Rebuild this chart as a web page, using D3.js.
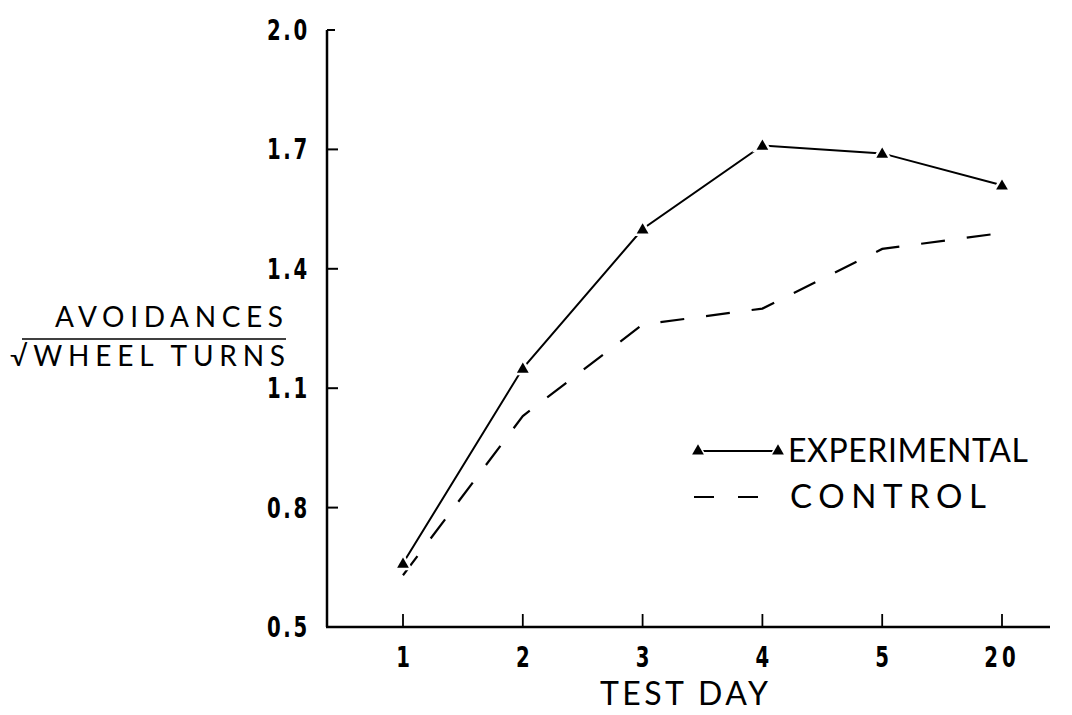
<!DOCTYPE html>
<meta charset="utf-8">
<style>
body { margin: 0; background: #fff; }
.tick-label {
  font-family: "DejaVu Sans", sans-serif;
  font-weight: bold;
  font-size: 29px;
  fill: #000;
}
.title {
  font-family: Lato, "Open Sans", sans-serif;
  fill: #000;
}
</style>

<svg width="1072" height="715"></svg>

<script src="https://d3js.org/d3.v7.min.js"></script>
<script>
// test days on the x axis, ratio values for the two groups
var days = ["1", "2", "3", "4", "5", "20"];
var experimental = [0.66, 1.15, 1.50, 1.71, 1.69, 1.61];
var control = [0.63, 1.03, 1.26, 1.30, 1.45, 1.49];
var yTicks = [0.5, 0.8, 1.1, 1.4, 1.7, 2.0];

var svg = d3.select("svg");

// scales
var x = d3.scalePoint().domain(days).range([403, 1002]);
var y = d3.scaleLinear().domain([0.5, 2.0]).range([627, 30]);

// y axis: line, inward ticks, bold condensed labels
svg.append("line")
    .attr("x1", 327).attr("x2", 327)
    .attr("y1", y(2.0)).attr("y2", y(0.5))
    .attr("stroke", "#000").attr("stroke-width", 2.5);

svg.selectAll(".ytick")
    .data(yTicks.slice(1))
    .enter().append("line")
      .attr("x1", 327).attr("x2", function(d) { return d == 2.0 ? 335 : 338; })
      .attr("y1", function(d) { return y(d); })
      .attr("y2", function(d) { return y(d); })
      .attr("stroke", "#000").attr("stroke-width", 2);

svg.selectAll(".ylab")
    .data(yTicks)
    .enter().append("text")
      .attr("class", "tick-label")
      .attr("transform", function(d) { return "translate(310," + (y(d) + 10) + ") scale(0.68,1)"; })
      .attr("text-anchor", "end")
      .style("letter-spacing", "4px")
      .text(function(d) { return d.toFixed(1); });

// x axis: line, upward ticks, labels
svg.append("line")
    .attr("x1", 326).attr("x2", 1050)
    .attr("y1", y(0.5)).attr("y2", y(0.5))
    .attr("stroke", "#000").attr("stroke-width", 2.5);

svg.selectAll(".xtick")
    .data(days)
    .enter().append("line")
      .attr("x1", function(d) { return x(d); })
      .attr("x2", function(d) { return x(d); })
      .attr("y1", y(0.5)).attr("y2", y(0.5) - 13)
      .attr("stroke", "#000").attr("stroke-width", 1.8);

svg.selectAll(".xlab")
    .data(days)
    .enter().append("text")
      .attr("class", "tick-label")
      .attr("transform", function(d) { return "translate(" + x(d) + ",667) scale(0.68,1)"; })
      .attr("text-anchor", "middle")
      .style("letter-spacing", function(d) { return d.length > 1 ? "6px" : "0px"; })
      .text(function(d) { return d; });

// axis titles
svg.append("text")
    .attr("class", "title")
    .attr("x", 600).attr("y", 705)
    .style("font-size", "32px")
    .attr("textLength", 168).attr("lengthAdjust", "spacing")
    .text("TEST DAY");

svg.append("text")
    .attr("class", "title")
    .attr("x", 55).attr("y", 327)
    .style("font-size", "28px")
    .attr("textLength", 228).attr("lengthAdjust", "spacing")
    .text("AVOIDANCES");

svg.append("line")
    .attr("x1", 22).attr("x2", 286)
    .attr("y1", 339).attr("y2", 339)
    .attr("stroke", "#000").attr("stroke-width", 1.5);

svg.append("text")
    .attr("class", "title")
    .attr("x", 10).attr("y", 366)
    .style("font-size", "28px")
    .attr("textLength", 275).attr("lengthAdjust", "spacing")
    .text("\u221AWHEEL TURNS");

// lines
var line = d3.line()
    .x(function(d, i) { return x(days[i]); })
    .y(function(d) { return y(d); });

svg.append("path")
    .datum(control)
    .attr("d", line)
    .attr("fill", "none")
    .attr("stroke", "#000")
    .attr("stroke-width", 2.2)
    .attr("stroke-dasharray", "24,22");

svg.append("path")
    .datum(experimental)
    .attr("d", line)
    .attr("fill", "none")
    .attr("stroke", "#000")
    .attr("stroke-width", 2);

var tri = d3.symbol().type(d3.symbolTriangle).size(60);

svg.selectAll(".pt")
    .data(experimental)
    .enter().append("path")
      .attr("d", tri)
      .attr("transform", function(d, i) { return "translate(" + x(days[i]) + "," + (y(d) + 1) + ")"; })
      .attr("fill", "#000")
      .attr("stroke", "#fff")
      .attr("stroke-width", 5)
      .attr("paint-order", "stroke");

// legend
var legend = svg.append("g");

legend.append("line")
    .attr("x1", 698).attr("x2", 778)
    .attr("y1", 451).attr("y2", 451)
    .attr("stroke", "#000").attr("stroke-width", 2);

legend.selectAll("path")
    .data([698, 778])
    .enter().append("path")
      .attr("d", tri)
      .attr("transform", function(d) { return "translate(" + d + ",451)"; })
      .attr("fill", "#000")
      .attr("stroke", "#fff")
      .attr("stroke-width", 3)
      .attr("paint-order", "stroke");

legend.append("line")
    .attr("x1", 694).attr("x2", 775)
    .attr("y1", 497).attr("y2", 497)
    .attr("stroke", "#000").attr("stroke-width", 2.2)
    .attr("stroke-dasharray", "20,24");

legend.append("text")
    .attr("class", "title")
    .attr("x", 788).attr("y", 462)
    .style("font-size", "32px")
    .attr("textLength", 240).attr("lengthAdjust", "spacing")
    .text("EXPERIMENTAL");

legend.append("text")
    .attr("class", "title")
    .attr("x", 790).attr("y", 508)
    .style("font-size", "33px")
    .attr("textLength", 196).attr("lengthAdjust", "spacing")
    .text("CONTROL");
</script>
